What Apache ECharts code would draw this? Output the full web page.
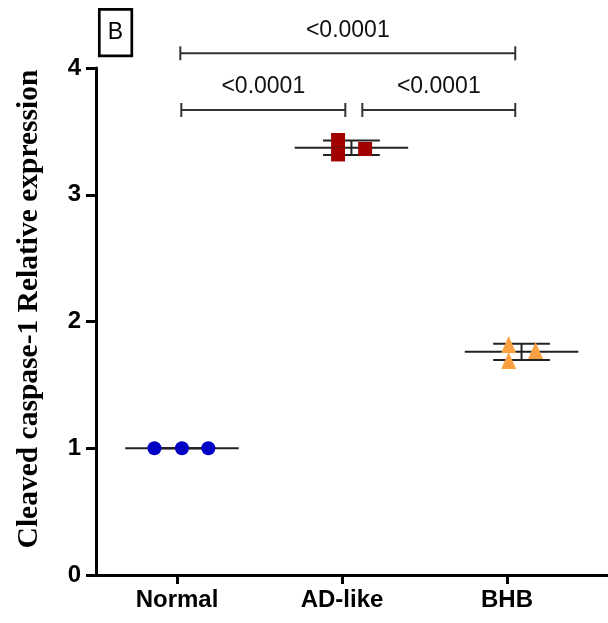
<!DOCTYPE html>
<html>
<head>
<meta charset="utf-8">
<script src="https://cdn.jsdelivr.net/npm/echarts@6/dist/echarts.min.js"></script>
<style>
  html, body { margin: 0; padding: 0; background: #fff; }
  #chart { width: 608px; height: 623px; }
</style>
</head>
<body>
<div id="chart"></div>
<script>
// Groups and their tick positions on the x axis
const categories = ['Normal', 'AD-like', 'BHB'];
const categoryTicks = [0, 1, 2];
const yTicks = [0, 1, 2, 3, 4];

// Column centres of each scatter column (x axis units)
const columnCenters = [0.03, 1.057, 2.088];

// Individual replicates per group
const normalValues = [1.0, 1.0, 1.0];
const adValues = [3.432, 3.318, 3.361];
const bhbValues = [1.819, 1.692, 1.771];

// Horizontal spread of the replicates inside each column
const normalSpread = [-0.167, 0.0, 0.16];
const adSpread = [-0.081, -0.081, 0.083];
const bhbSpread = [-0.078, -0.078, 0.085];

// Pairwise comparisons: [from x, to x, bracket height, p label]
const bracketFrom = [0.026, 1.123, 0.02];
const bracketTo = [1.02, 2.05, 2.05];
const bracketLevel = [3.669, 3.669, 4.116];
const pLabels = ['<0.0001', '<0.0001', '<0.0001'];

const groupValues = [normalValues, adValues, bhbValues];
const groupSpread = [normalSpread, adSpread, bhbSpread];
const groupColors = ['#0000C4', '#A00000', '#F9A142'];
const groupSymbols = ['circle', 'rect', 'triangle'];
const groupSymbolSizes = [14, 14, [15, 17]];

function mean(arr) { return arr.reduce((a, b) => a + b, 0) / arr.length; }
function sd(arr) {
  const m = mean(arr);
  return Math.sqrt(arr.reduce((a, b) => a + (b - m) * (b - m), 0) / (arr.length - 1));
}

const summaryData = groupValues.map((vals, i) => [columnCenters[i], mean(vals), sd(vals)]);
const bracketData = pLabels.map((p, i) => [bracketFrom[i], bracketTo[i], bracketLevel[i], i]);

const chart = echarts.init(document.getElementById('chart'), null, { renderer: 'canvas' });

const lineColor = '#222';

const scatterSeries = groupValues.map((vals, i) => ({
  type: 'scatter',
  name: categories[i],
  symbol: groupSymbols[i],
  symbolSize: groupSymbolSizes[i],
  itemStyle: { color: groupColors[i], opacity: 1 },
  z: 5,
  data: vals.map((v, k) => [columnCenters[i] + groupSpread[i][k], v])
}));

const option = {
  animation: false,
  backgroundColor: '#fff',
  grid: { left: 96, right: 0, top: 68, bottom: 48, containLabel: false },
  xAxis: {
    type: 'value',
    min: -0.491,
    max: 2.612,
    splitLine: { show: false },
    axisLine: { show: true, onZero: false, lineStyle: { color: '#000', width: 3 } },
    axisTick: { show: true, customValues: categoryTicks, length: 9, lineStyle: { color: '#000', width: 3 } },
    axisLabel: {
      show: true,
      customValues: categoryTicks,
      formatter: (v) => categories[Math.round(v)],
      fontFamily: 'Liberation Sans, Arial, sans-serif',
      fontWeight: 'bold',
      fontSize: 24,
      color: '#000',
      margin: 13
    }
  },
  yAxis: {
    type: 'value',
    min: 0,
    max: 4,
    interval: 1,
    splitLine: { show: false },
    axisLine: { show: true, onZero: false, lineStyle: { color: '#000', width: 3 } },
    axisTick: { show: true, length: 10, lineStyle: { color: '#000', width: 3 } },
    axisLabel: {
      formatter: (v) => (yTicks.indexOf(v) >= 0 ? String(v) : ''),
      fontFamily: 'Liberation Sans, Arial, sans-serif',
      fontWeight: 'bold',
      fontSize: 24,
      color: '#000',
      margin: 15
    }
  },
  graphic: [
    {
      type: 'text',
      x: 29,
      y: 309,
      rotation: Math.PI / 2,
      style: {
        text: 'Cleaved caspase-1 Relative expression',
        font: 'bold 29.5px "Liberation Serif", "Times New Roman", serif',
        fill: '#000',
        textAlign: 'center',
        textVerticalAlign: 'middle'
      }
    },
    {
      type: 'group',
      x: 98,
      y: 8,
      children: [
        { type: 'rect', shape: { x: 1.3, y: 1.3, width: 32.5, height: 46.5 }, style: { fill: '#fff', stroke: '#000', lineWidth: 2.7 } },
        { type: 'text', style: { x: 17.5, y: 25, text: 'B', font: '23px "Liberation Sans", Arial, sans-serif', fill: '#000', textAlign: 'center', textVerticalAlign: 'middle' } }
      ]
    }
  ],
  series: [
    {
      // Mean line with SD error bars for each group
      type: 'custom',
      name: 'summary',
      z: 3,
      clip: false,
      data: summaryData,
      renderItem: function (params, api) {
        const x = api.value(0), m = api.value(1), s = api.value(2);
        const c = api.coord([x, m]);
        const top = api.coord([x, m + s]);
        const bot = api.coord([x, m - s]);
        const half = api.size([0.344, 0])[0];
        const cap = api.size([0.172, 0])[0];
        const st = { stroke: lineColor, lineWidth: 2 };
        return {
          type: 'group',
          children: [
            { type: 'line', shape: { x1: c[0] - half, y1: c[1], x2: c[0] + half, y2: c[1] }, style: st },
            { type: 'line', shape: { x1: c[0], y1: top[1], x2: c[0], y2: bot[1] }, style: st },
            { type: 'line', shape: { x1: c[0] - cap, y1: top[1], x2: c[0] + cap, y2: top[1] }, style: st },
            { type: 'line', shape: { x1: c[0] - cap, y1: bot[1], x2: c[0] + cap, y2: bot[1] }, style: st }
          ]
        };
      }
    },
    {
      // Significance brackets with p values
      type: 'custom',
      name: 'brackets',
      z: 4,
      clip: false,
      data: bracketData,
      renderItem: function (params, api) {
        const a = api.coord([api.value(0), api.value(2)]);
        const b = api.coord([api.value(1), api.value(2)]);
        const label = pLabels[api.value(3)];
        const st = { stroke: '#333', lineWidth: 2 };
        return {
          type: 'group',
          children: [
            { type: 'line', shape: { x1: a[0], y1: a[1], x2: b[0], y2: b[1] }, style: st },
            { type: 'line', shape: { x1: a[0], y1: a[1] - 7, x2: a[0], y2: a[1] + 7 }, style: st },
            { type: 'line', shape: { x1: b[0], y1: b[1] - 7, x2: b[0], y2: b[1] + 7 }, style: st },
            {
              type: 'text',
              style: {
                x: (a[0] + b[0]) / 2,
                y: a[1] - 23,
                text: label,
                font: '23px "Liberation Sans", Arial, sans-serif',
                fill: '#111',
                textAlign: 'center',
                textVerticalAlign: 'middle'
              }
            }
          ]
        };
      }
    }
  ].concat(scatterSeries)
};

chart.setOption(option);
</script>
</body>
</html>
